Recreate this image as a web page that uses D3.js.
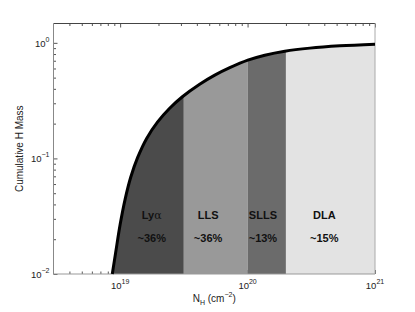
<!doctype html>
<html lang="en">
<head>
<meta charset="UTF-8">
<title>Cumulative H Mass</title>
<style type="text/css">
body {
  margin: 0;
  padding: 0;
  background: #fff;
  font-family: 'Liberation Sans', 'Helvetica', sans-serif;
}
</style>
<script type="text/javascript" src="https://cdn.jsdelivr.net/npm/d3@7/dist/d3.min.js"></script>
</head>
<body>
<div id="chart"></div>
<script type="text/javascript">

// curve: column density vs cumulative mass fraction
var columnDensity = [8.68e18, 9.22e18, 1.0e19, 1.095e19, 1.209e19, 1.373e19, 1.615e19, 1.970e19, 2.448e19, 3.08e19,
                     4.21e19, 5.53e19, 7.25e19, 1.004e20, 1.365e20, 1.96e20, 3.08e20, 5.30e20, 1e21];
var cumulativeMass = [0.01, 0.0153, 0.0268, 0.0445, 0.0684, 0.102, 0.149, 0.207, 0.2715, 0.3415,
                      0.438, 0.525, 0.609, 0.708, 0.782, 0.847, 0.90, 0.942, 0.974];

// absorber classes
var bandNames = ['Ly\u03b1', 'LLS', 'SLLS', 'DLA'];
var bandShares = ['~36%', '~36%', '~13%', '~15%'];
var bandEdges = [3e18, 3.16e19, 1e20, 2e20, 1e21];
var bandColors = ['#4b4b4b', '#999999', '#6b6b6b', '#e3e3e3'];
var labelAt = [1.77e19, 4.9e19, 1.32e20, 4.0e20];

var xMajor = [1e19, 1e20, 1e21];
var yMajor = [1e-2, 1e-1, 1e0];

var W = 415, H = 312;
var margin = {top: 23.5, right: 40, bottom: 38, left: 53.5};

function minorTicks(lo, hi) {
  var result = [];
  for (var e = Math.floor(Math.log10(lo)); e < Math.ceil(Math.log10(hi)); e++) {
    for (var k = 2; k <= 9; k++) {
      var v = k * Math.pow(10, e);
      if (v > lo && v < hi) result.push(v);
    }
  }
  return result;
}

function expLabel(sel, exp) {
  sel.append('tspan').text('10');
  sel.append('tspan')
    .attr('dy', -5)
    .style('font-size', '7px')
    .text(exp < 0 ? '\u2212' + (-exp) : exp);
}

var svg = d3.select('#chart').append('svg')
  .attr('width', W)
  .attr('height', H)
  .style('display', 'block');

svg.append('rect').attr('width', W).attr('height', H).attr('fill', '#fff');

var x = d3.scaleLog().domain([3e18, 1e21]).range([margin.left, W - margin.right]);
var y = d3.scaleLog().domain([1e-2, 1.47]).range([H - margin.bottom, margin.top]);

var x0 = x.range()[0], x1 = x.range()[1];
var y0 = y.range()[0], y1 = y.range()[1];

var g = svg.append('g');

// ticks (under the fills)
function tickLayer(axis, tx, ty, values, size) {
  g.append('g')
    .attr('transform', 'translate(' + tx + ',' + ty + ')')
    .call(axis.tickValues(values).tickSize(size).tickFormat(''))
    .call(function(s) {
      s.select('.domain').remove();
      s.selectAll('line').attr('stroke', '#555');
    });
}
var xMinor = minorTicks(3e18, 1e21);
var yMinor = minorTicks(1e-2, 1.47);
tickLayer(d3.axisTop(x), 0, y1, xMajor, -4);
tickLayer(d3.axisTop(x), 0, y1, xMinor, -2.5);
tickLayer(d3.axisBottom(x), 0, y0, xMajor, -4);
tickLayer(d3.axisBottom(x), 0, y0, xMinor, -2.5);
tickLayer(d3.axisLeft(y), x0, 0, yMajor, -4);
tickLayer(d3.axisLeft(y), x0, 0, yMinor, -2.5);

var pts = columnDensity.map(function(n, i) { return [n, cumulativeMass[i]]; });

var smooth = d3.curveCatmullRom.alpha(0.5);

var area = d3.area()
  .x(function(d) { return x(d[0]); })
  .y0(y0)
  .y1(function(d) { return y(d[1]); })
  .curve(smooth);

var line = d3.line()
  .x(function(d) { return x(d[0]); })
  .y(function(d) { return y(d[1]); })
  .curve(smooth);

var defs = svg.append('defs');
bandNames.forEach(function(name, i) {
  defs.append('clipPath').attr('id', 'band' + i)
    .append('rect')
    .attr('x', x(bandEdges[i]))
    .attr('y', y1)
    .attr('width', x(bandEdges[i + 1]) - x(bandEdges[i]))
    .attr('height', y0 - y1);
  g.append('path')
    .datum(pts)
    .attr('d', area)
    .attr('fill', bandColors[i])
    .attr('clip-path', 'url(#band' + i + ')');
});

// box
g.append('line').attr('x1', x0).attr('x2', x1).attr('y1', y1).attr('y2', y1).attr('stroke', '#444');
g.append('line').attr('x1', x0).attr('x2', x1).attr('y1', y0).attr('y2', y0).attr('stroke', '#999');
g.append('line').attr('x1', x0).attr('x2', x0).attr('y1', y1).attr('y2', y0).attr('stroke', '#888');
g.append('line').attr('x1', x1).attr('x2', x1).attr('y1', y1).attr('y2', y0).attr('stroke', '#aaa');

g.append('path')
  .datum(pts)
  .attr('d', line)
  .attr('fill', 'none')
  .attr('stroke', '#000')
  .attr('stroke-width', 3);

// band labels
bandNames.forEach(function(name, i) {
  var t = g.append('text')
    .attr('x', x(labelAt[i]))
    .attr('y', y(0.030))
    .attr('text-anchor', 'middle')
    .style('font-size', '11px')
    .style('font-weight', 'bold')
    .attr('fill', '#111');
  if (name.indexOf('\u03b1') >= 0) {
    t.append('tspan').text('Ly');
    t.append('tspan').style('font-weight', 'normal').style('font-family', 'DejaVu Serif').text('\u03b1');
  } else {
    t.text(name);
  }
  g.append('text')
    .attr('x', x(labelAt[i]))
    .attr('y', y(0.019))
    .attr('text-anchor', 'middle')
    .style('font-size', '11px')
    .style('font-weight', 'bold')
    .attr('fill', '#111')
    .text(bandShares[i]);
});

// tick labels
xMajor.forEach(function(v) {
  var t = g.append('text')
    .attr('x', x(v))
    .attr('y', y0 + 15)
    .attr('text-anchor', 'middle')
    .style('font-size', '9.5px')
    .attr('fill', '#222');
  expLabel(t, Math.round(Math.log10(v)));
});
yMajor.forEach(function(v) {
  var t = g.append('text')
    .attr('x', x0 - 4)
    .attr('y', y(v) + 4)
    .attr('text-anchor', 'end')
    .style('font-size', '9.5px')
    .attr('fill', '#222');
  expLabel(t, Math.round(Math.log10(v)));
});

// axis titles
var xt = g.append('text')
  .attr('x', (x0 + x1) / 2)
  .attr('y', 302)
  .attr('text-anchor', 'middle')
  .style('font-size', '10px')
  .attr('fill', '#222');
xt.append('tspan').text('N');
xt.append('tspan').attr('dy', 3).style('font-size', '7px').text('H');
xt.append('tspan').attr('dy', -3).text(' (cm');
xt.append('tspan').attr('dy', -5).style('font-size', '7px').text('\u22122');
xt.append('tspan').attr('dy', 5).text(')');

g.append('text')
  .attr('transform', 'translate(23,' + ((y0 + y1) / 2) + ') rotate(-90)')
  .attr('text-anchor', 'middle')
  .style('font-size', '10px')
  .attr('fill', '#222')
  .text('Cumulative H Mass');

</script>
</body>
</html>
